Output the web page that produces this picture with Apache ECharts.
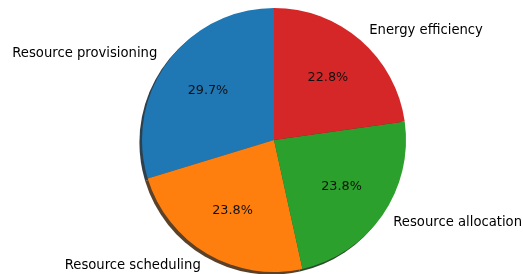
<!DOCTYPE html>
<html>
<head>
<meta charset="utf-8">
<script src="https://cdn.jsdelivr.net/npm/echarts@6/dist/echarts.min.js"></script>
<style>
  html, body { margin: 0; padding: 0; background: #fff; }
  #chart { width: 523px; height: 274px; }
</style>
</head>
<body>
<div id="chart"></div>
<script>
// topic counts (percentages 29.7 / 23.8 / 23.8 / 22.8)
const categories = ['Resource provisioning', 'Resource scheduling', 'Resource allocation', 'Energy efficiency']
const counts = [30, 24, 24, 23]
const colors = ['#1f77b4', '#ff7f0e', '#2ca02c', '#d62728']

const total = counts.reduce((a, b) => a + b, 0)
const cx = 274
const cy = 140
const R = 132

// shadow colour: darkened face colour
function shade(hex) {
  const n = parseInt(hex.slice(1), 16)
  const r = Math.round(((n >> 16) & 255) * 0.25)
  const g = Math.round(((n >> 8) & 255) * 0.25)
  const b = Math.round((n & 255) * 0.25)
  return `rgba(${r},${g},${b},0.85)`
}

const pieData = categories.map((name, i) => ({ name: name, value: counts[i] }))

const chart = echarts.init(document.getElementById('chart'))
const font = 'DejaVu Sans'

chart.setOption({
  backgroundColor: '#fff',
  animation: false,
  series: [
    {
      // shadow
      type: 'pie',
      silent: true,
      clockwise: false,
      startAngle: 90,
      center: [cx - 2.6, cy + 2.6],
      radius: R,
      label: { show: false },
      labelLine: { show: false },
      data: pieData.map((d, i) => ({ ...d, itemStyle: { color: shade(colors[i]) } }))
    },
    {
      type: 'pie',
      silent: true,
      clockwise: false,
      startAngle: 90,
      center: [cx, cy],
      radius: R,
      avoidLabelOverlap: false,
      label: {
        show: true,
        position: 'outside',
        distanceToLabelLine: 0,
        color: '#000',
        fontFamily: font,
        fontSize: 13.2,
        formatter: '{b}'
      },
      labelLine: { show: false, length: R * 0.1, length2: 0 },
      data: pieData.map((d, i) => ({ ...d, itemStyle: { color: colors[i] } }))
    },
    {
      // percentage labels at 0.6 R
      type: 'pie',
      silent: true,
      clockwise: false,
      startAngle: 90,
      center: [cx, cy],
      radius: [R * 0.2, R],
      label: {
        show: true,
        position: 'inside',
        color: '#111',
        fontFamily: font,
        fontSize: 12.8,
        formatter: p => (p.value / total * 100).toFixed(1) + '%'
      },
      labelLine: { show: false },
      itemStyle: { color: 'rgba(0,0,0,0)' },
      data: pieData
    }
  ]
})
</script>
</body>
</html>
